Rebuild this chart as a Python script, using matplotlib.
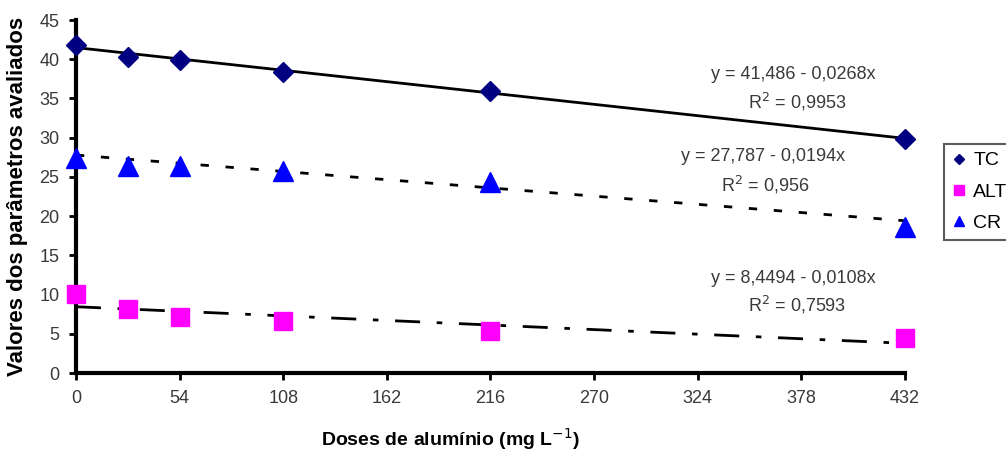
import numpy as np
import matplotlib
matplotlib.use("Agg")
import matplotlib.pyplot as plt

plt.rcParams['font.family'] = ['Liberation Sans', 'DejaVu Sans']

# doses of aluminium (mg L-1)
doses = [0, 27, 54, 108, 216, 432]
tc = [41.8, 40.3, 39.9, 38.4, 35.9, 29.8]
alt = [10.1, 8.2, 7.2, 6.6, 5.3, 4.5]
cr = [27.4, 26.4, 26.4, 25.8, 24.4, 18.6]

# regression coefficients printed on the chart (a - b*x)
tc_fit = (41.486, 0.0268)
cr_fit = (27.787, 0.0194)
alt_fit = (8.4494, 0.0108)

xticks = [0, 54, 108, 162, 216, 270, 324, 378, 432]
yticks = [0, 5, 10, 15, 20, 25, 30, 35, 40, 45]

fig = plt.figure(figsize=(10.06, 4.57), dpi=100)
ax = fig.add_axes([0.0755, 0.1838, 0.8241, 0.7724])

xx = np.array([0, 432])
ax.plot(xx, tc_fit[0] - tc_fit[1] * xx, color='black', lw=2, zorder=2)
ax.plot(xx, cr_fit[0] - cr_fit[1] * xx, color='black', lw=2,
        dashes=(3, 6), zorder=2)
ax.plot(xx, alt_fit[0] - alt_fit[1] * xx, color='black', lw=2,
        dashes=(9, 6, 2, 6), zorder=2)

ax.plot(doses, tc, ls='none', marker='D', ms=10, color='#000080',
        label='TC', clip_on=False, zorder=3)
ax.plot(doses, alt, ls='none', marker='s', ms=13, color='#ff00ff',
        label='ALT', clip_on=False, zorder=3)
ax.plot(doses, cr, ls='none', marker='^', ms=14, color='#0000ff',
        label='CR', clip_on=False, zorder=3)

ax.set_xlim(0, 432)
ax.set_ylim(0, 45)
ax.set_xticks(xticks)
ax.set_yticks(yticks)
ax.tick_params(direction='out', length=5, width=2, labelsize=13,
               labelcolor='#3a3a3a', pad=7)
for s in ['top', 'right']:
    ax.spines[s].set_visible(False)
for s in ['left', 'bottom']:
    ax.spines[s].set_linewidth(3)

ax.set_xlabel('Doses de alumínio (mg L$^{-1}$)', fontsize=14,
              fontweight='bold')
ax.xaxis.set_label_coords(0.452, -0.15)
ax.set_ylabel('Valores dos parâmetros avaliados', fontsize=16,
              fontweight='bold')
ax.yaxis.set_label_coords(-0.058, 0.5)

txt = dict(fontsize=13, color='#3a3a3a', ha='center', va='center')
ax.text(374, 38.1, 'y = 41,486 - 0,0268x', **txt)
ax.text(376, 34.5, 'R$^2$ = 0,9953', **txt)
ax.text(358, 27.6, 'y = 27,787 - 0,0194x', **txt)
ax.text(359, 24.0, 'R$^2$ = 0,956', **txt)
ax.text(374, 12.0, 'y = 8,4494 - 0,0108x', **txt)
ax.text(376, 8.7, 'R$^2$ = 0,7593', **txt)

leg = fig.legend(loc='upper left', bbox_to_anchor=(944 / 1006, 1 - 144 / 457),
                 fontsize=14, frameon=True, fancybox=False, markerscale=0.55,
                 handlelength=0.7, handletextpad=0.4, borderpad=0.4,
                 labelspacing=0.7, borderaxespad=0)
leg.get_frame().set_edgecolor('#333333')
leg.get_frame().set_linewidth(1.5)

fig.savefig('out.png', dpi=100)
